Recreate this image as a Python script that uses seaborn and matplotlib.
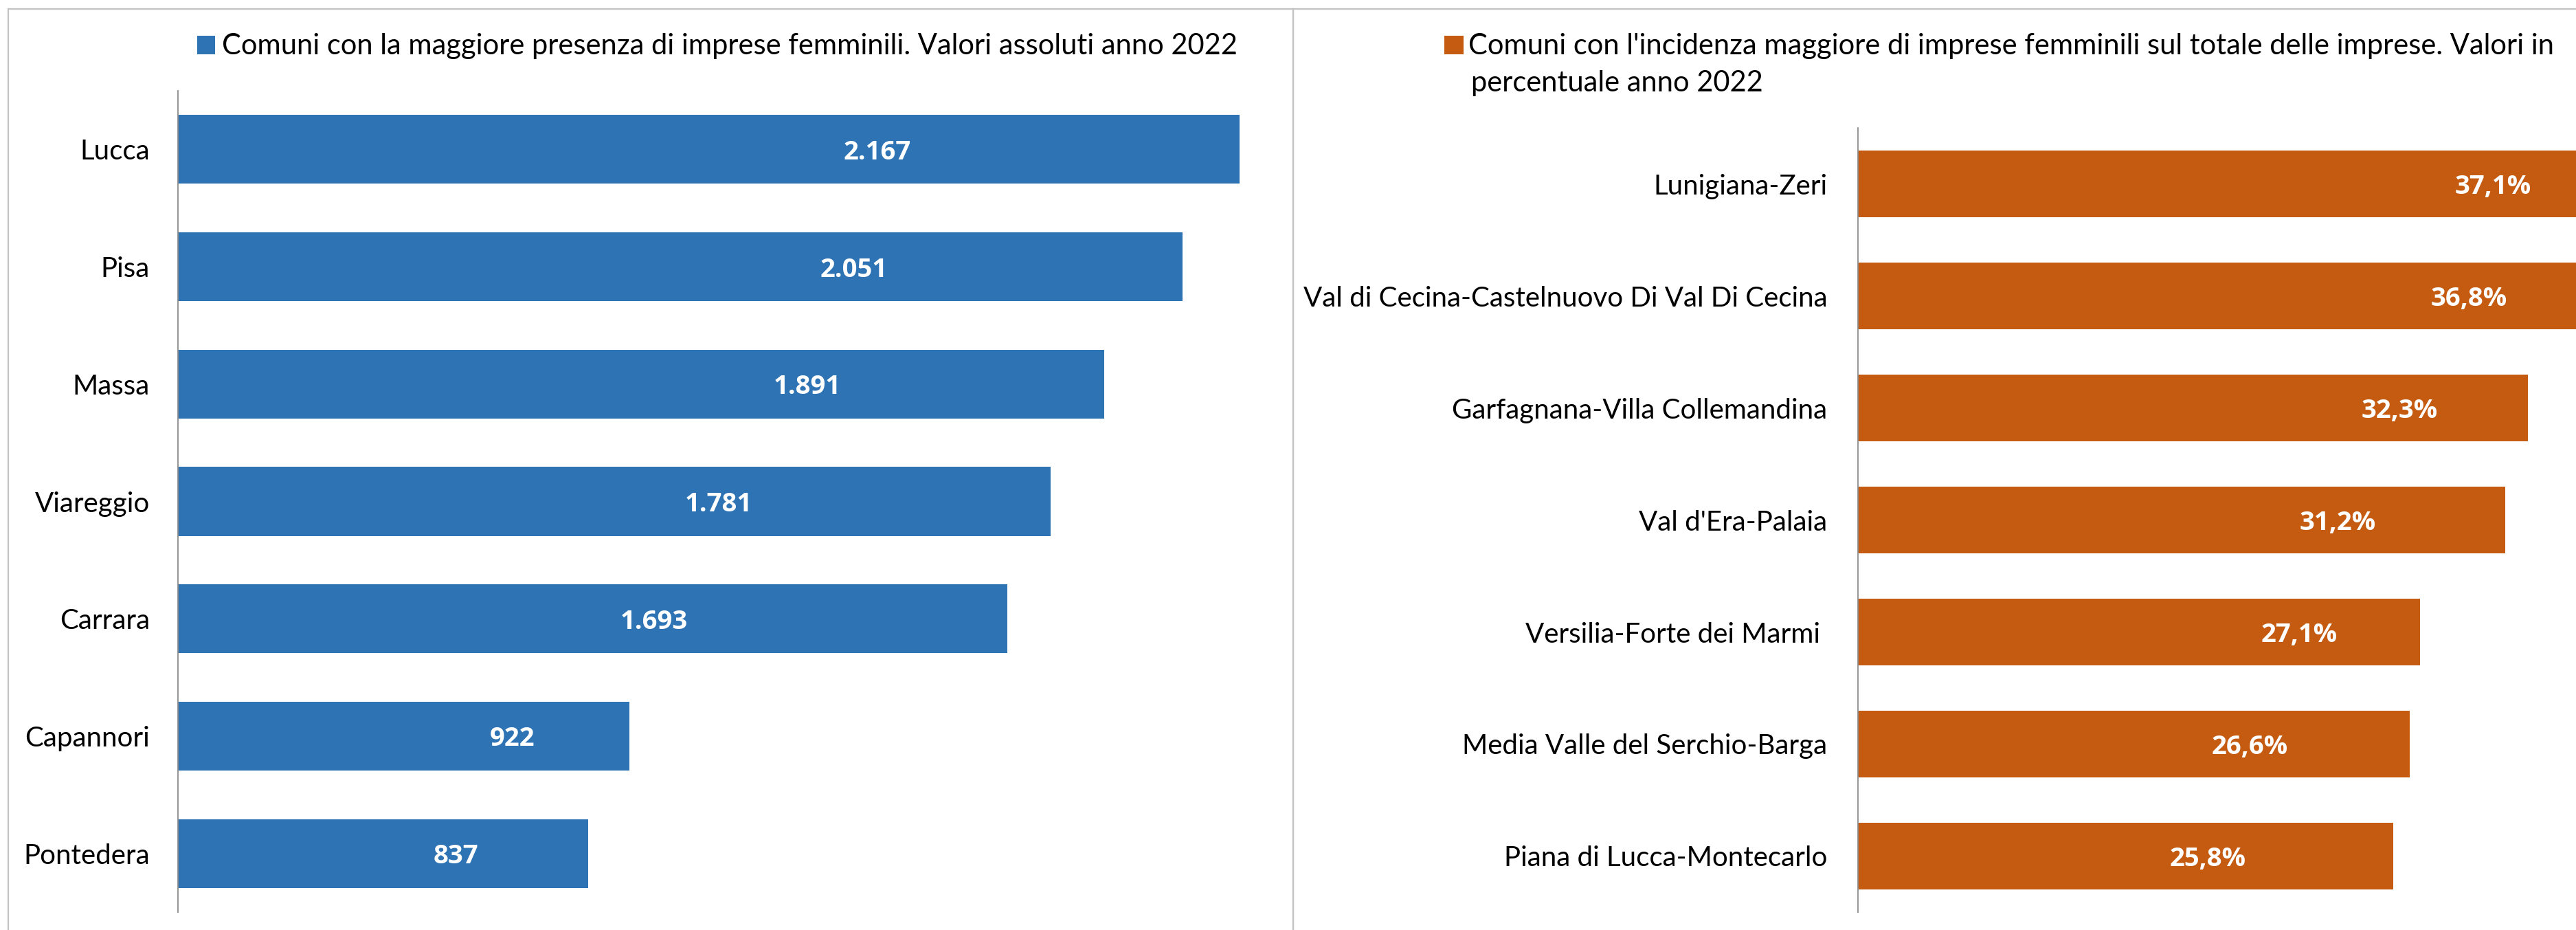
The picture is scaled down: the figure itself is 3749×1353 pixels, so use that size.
import matplotlib
matplotlib.use("Agg")
import matplotlib.pyplot as plt
import seaborn as sns
import pandas as pd
import numpy as np
from matplotlib.patches import Rectangle
from matplotlib.ticker import FixedLocator

# ---------------- data ----------------
comuni_assoluti = ["Lucca", "Pisa", "Massa", "Viareggio", "Carrara", "Capannori", "Pontedera"]
imprese_assolute = [2167, 2051, 1891, 1781, 1693, 922, 837]
etichette_assolute = ["2.167", "2.051", "1.891", "1.781", "1.693", "922", "837"]

comuni_incidenza = [
    "Lunigiana-Zeri",
    "Val di Cecina-Castelnuovo Di Val Di Cecina",
    "Garfagnana-Villa Collemandina",
    "Val d'Era-Palaia",
    "Versilia-Forte dei Marmi ",
    "Media Valle del Serchio-Barga",
    "Piana di Lucca-Montecarlo",
]
incidenza_pct = [37.1, 36.8, 32.3, 31.2, 27.1, 26.6, 25.8]
etichette_incidenza = ["37,1%", "36,8%", "32,3%", "31,2%", "27,1%", "26,6%", "25,8%"]

legenda_sx = "Comuni con la maggiore presenza di imprese femminili. Valori assoluti anno 2022"
legenda_dx = ("Comuni con l'incidenza maggiore di imprese femminili sul totale delle imprese. Valori in\n"
              "percentuale anno 2022")

# layout: where each data label sits along its bar (fraction of bar length)
pos_etichette_sx = [0.659, 0.673, 0.679, 0.620, 0.574, 0.740, 0.677]
pos_etichette_dx = [0.825, 0.801, 0.809, 0.741, 0.785, 0.710, 0.654]

# ---------------- style ----------------
BLU = "#2E74B5"
ARANCIO = "#C55A11"
GRIGIO_ASSE = "#8C8C8C"
GRIGIO_BORDO = "#C3C3C3"
FS_TICK = 29
FS_LEG = 30
FS_VAL = 27.5
FONT_VAL = ["Open Sans", "DejaVu Sans"]

sns.set_style("white")
plt.rcParams["font.family"] = ["Lato", "DejaVu Sans"]

W, H = 3749, 1353
fig = plt.figure(figsize=(W / 100, H / 100), dpi=100)
fig.patch.set_facecolor("white")


def px_axes(left, top, right, bottom):
    return fig.add_axes([left / W, (H - bottom) / H, (right - left) / W, (bottom - top) / H])


def style_axes(ax, xmax):
    ax.set_xlim(0, xmax)
    ax.set_ylim(6.5, -0.5)
    ax.set_xlabel("")
    ax.set_ylabel("")
    ax.set_facecolor("none")
    for s in ["top", "right", "bottom"]:
        ax.spines[s].set_visible(False)
    ax.spines["left"].set_color(GRIGIO_ASSE)
    ax.spines["left"].set_linewidth(1.3)
    ax.xaxis.set_visible(False)
    ax.yaxis.set_minor_locator(FixedLocator(np.arange(-0.5, 7.0, 1.0)))
    ax.tick_params(axis="y", which="major", length=0, labelsize=FS_TICK, labelcolor="black")
    ax.tick_params(axis="y", which="minor", length=9.4, width=1.3, color=GRIGIO_ASSE, direction="out")
    ax.grid(False)


# ---------------- left panel ----------------
df_sx = pd.DataFrame({"comune": comuni_assoluti, "valore": imprese_assolute})
ax1 = px_axes(259, 132, 259 + 2200 * 0.71297, 1327)
sns.barplot(data=df_sx, x="valore", y="comune", orient="h", color=BLU, saturation=1,
            width=0.586, linewidth=0, ax=ax1)
style_axes(ax1, 2200)
ax1.tick_params(axis="y", which="major", pad=29.5)
for i, (v, lab, f) in enumerate(zip(imprese_assolute, etichette_assolute, pos_etichette_sx)):
    ax1.text(v * f, i, lab, color="white", fontsize=FS_VAL, fontweight="bold", family=FONT_VAL,
             ha="center", va="center_baseline")

# ---------------- right panel ----------------
df_dx = pd.DataFrame({"comune": comuni_incidenza, "valore": incidenza_pct})
ax2 = px_axes(2704, 186, 2704 + 40 * 30.18, 1327)
sns.barplot(data=df_dx, x="valore", y="comune", orient="h", color=ARANCIO, saturation=1,
            width=0.589, linewidth=0, ax=ax2)
style_axes(ax2, 40)
ax2.tick_params(axis="y", which="major", pad=32)
for i, (v, lab, f) in enumerate(zip(incidenza_pct, etichette_incidenza, pos_etichette_dx)):
    ax2.text(v * f, i, lab, color="white", fontsize=FS_VAL, fontweight="bold", family=FONT_VAL,
             ha="center", va="center_baseline")

# ---------------- panel frames ----------------
fig.add_artist(Rectangle((12 / W, -0.2), (1882 - 12) / W, (H - 13) / H + 0.2,
                         transform=fig.transFigure, fill=False, edgecolor=GRIGIO_BORDO, linewidth=1.6))
fig.add_artist(Rectangle((1882 / W, -0.2), 0.6, (H - 13) / H + 0.2,
                         transform=fig.transFigure, fill=False, edgecolor=GRIGIO_BORDO, linewidth=1.6))

# ---------------- legends ----------------
fig.add_artist(Rectangle((287 / W, (H - 79) / H), 26 / W, 27 / H, transform=fig.transFigure,
                         facecolor=BLU, edgecolor="none"))
fig.text(323 / W, (H - 79) / H, legenda_sx, fontsize=FS_LEG, color="black", ha="left", va="baseline")

fig.add_artist(Rectangle((2102 / W, (H - 79) / H), 28 / W, 27 / H, transform=fig.transFigure,
                         facecolor=ARANCIO, edgecolor="none"))
righe = legenda_dx.split("\n")
fig.text(2137 / W, (H - 79) / H, righe[0], fontsize=FS_LEG, color="black", ha="left", va="baseline")
fig.text(2141 / W, (H - 133) / H, righe[1], fontsize=FS_LEG, color="black", ha="left", va="baseline")

fig.savefig("out.png", dpi=100, facecolor="white")
